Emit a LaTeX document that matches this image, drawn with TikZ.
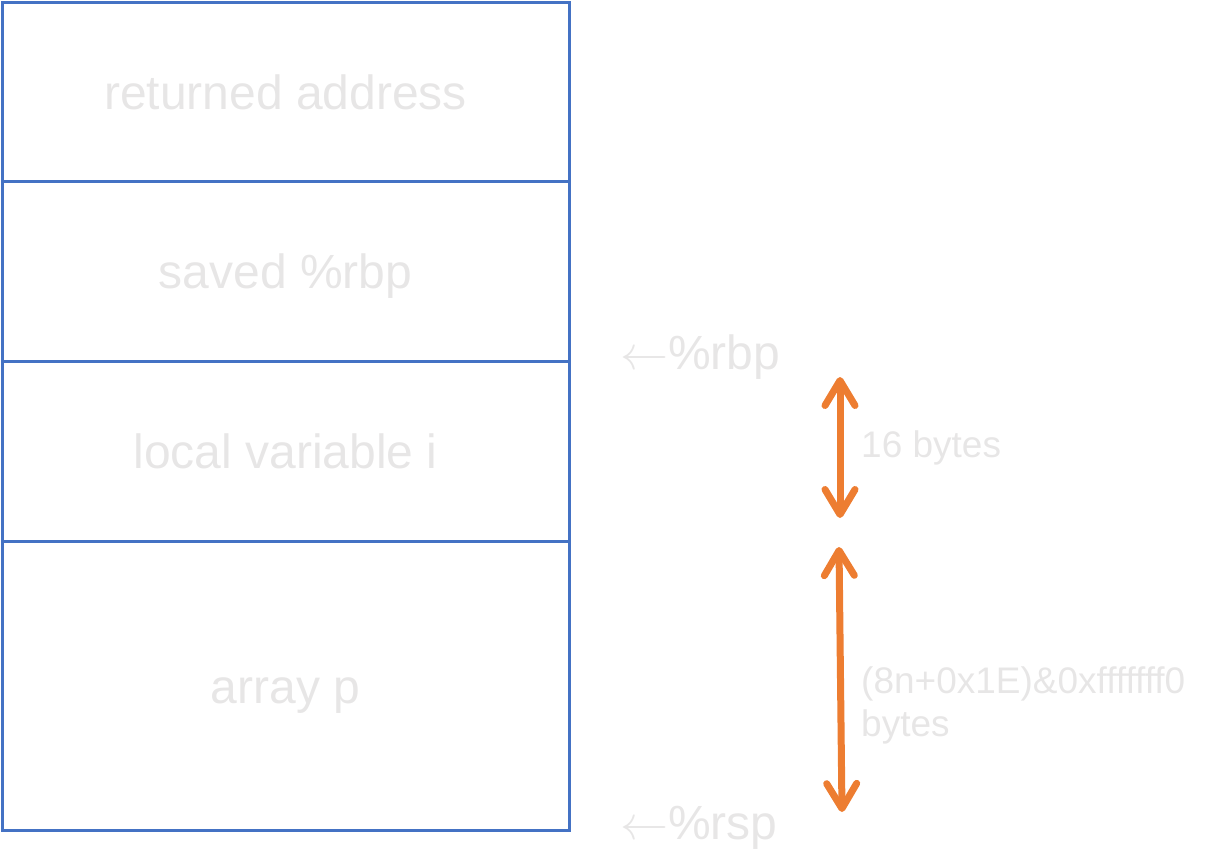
\documentclass[tikz,border=0pt]{standalone}
\usepackage{graphicx}
\usepackage{fontspec}
\setmainfont{Liberation Sans}
\usetikzlibrary{arrows.meta}
\definecolor{frameblue}{HTML}{4472C4}
\definecolor{sizeorange}{HTML}{ED7D31}
\definecolor{labelgrey}{HTML}{E7E6E6}
\newcommand{\regarrow}{\scalebox{4.8}{\fontsize{10}{12}\selectfont$\leftarrow$}}

\begin{document}
\begin{tikzpicture}[x=1pt,y=-1pt]
\tikzstyle{cell}=[draw=frameblue,line width=3pt,minimum width=567pt,inner sep=0pt,text height=35pt,text depth=0pt,text=labelgrey,font=\fontsize{48}{56}\selectfont]
\tikzstyle{reg}=[anchor=base west,inner sep=0pt,text=labelgrey,font=\fontsize{48}{56}\selectfont]
\tikzstyle{size}=[anchor=west,inner sep=0pt,align=left,text=labelgrey,font=\fontsize{37}{43}\selectfont]
\tikzstyle{span}=[draw=sizeorange,line width=7pt,{Straight Barb[round,length=25pt,width=30pt]}-{Straight Barb[round,length=25pt,width=30pt]}]
\useasboundingbox (0,0) rectangle (1225,863);
% stack frame
\foreach \name/\top/\bot/\text in {
	ret/2/181/returned address,
	saved/181/361/saved \%rbp,
	loc/361/541/local variable i,
	arr/541/830/array p}
	\node[cell,minimum height=\bot-\top] (\name) at (285.5,{(\top+\bot)/2}) {\text};
% registers
\node[reg] (rbp) at (620,369) {\regarrow\%rbp};
\node[reg] (rsp) at (620,839) {\regarrow\%rsp};
% sizes
\coordinate (a1) at (840,377);
\coordinate (b1) at (840,518);
\coordinate (a2) at (839,547);
\coordinate (b2) at (842,812);
\draw[span] (a1) -- (b1);
\draw[span] (a2) -- (b2);
\node[size] (small) at (861,448) {16 bytes};
\node[size] (big) at (861,705) {(8n+0x1E)\&0xfffffff0\\bytes};
\end{tikzpicture}
\end{document}
